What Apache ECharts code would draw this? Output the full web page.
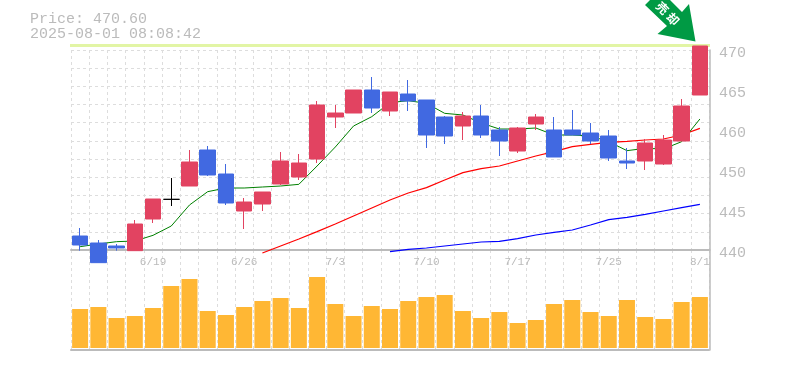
<!DOCTYPE html>
<html><head><meta charset="utf-8">
<style>html,body{margin:0;padding:0;background:#fff}#c{width:785px;height:370px}</style>
<script src="https://cdn.jsdelivr.net/npm/echarts@6/dist/echarts.min.js"></script>
</head><body><div id="c"></div>
<script>
var categories=['6/13','6/16','6/17','6/18','6/19','6/20','6/23','6/24','6/25','6/26','6/27','6/30','7/1','7/2','7/3','7/4','7/7','7/8','7/9','7/10','7/11','7/14','7/15','7/16','7/17','7/18','7/22','7/23','7/24','7/25','7/28','7/29','7/30','7/31','8/1'];
var shownDates=['6/19','6/26','7/3','7/10','7/17','7/25','8/1'];
var priceTicks=[440,446,452,458,464,470];
var priceTickLabels=['440','445','450','460','465','470'];
var opens=[442.1,441.05,440.6,439.9,444.65,447.6,449.6,455,451.4,445.85,446.9,449.9,450.95,453.65,459.95,460.55,464,460.85,463.4,462.5,459.95,458.6,460.1,458,454.85,458.9,458,458,457.55,457.1,453.35,453.35,452.9,456.35,463.25];
var closes=[440.75,438.1,440.3,443.9,447.65,447.6,453.2,451.25,447.05,447.2,448.7,453.35,453.05,461.75,460.55,464,461.3,463.7,462.35,457.25,457.1,460.1,457.25,456.35,458.3,459.95,453.95,457.25,456.35,453.8,453.05,456.05,456.5,461.6,470.6];
var lows=[439.9,438.1,439.9,439.9,444.05,446.6,449.6,451.1,446.75,443.15,445.85,449.75,450.5,453.05,458.3,460.55,460.55,460.1,460.85,455.3,455.9,456.5,456.8,454.1,454.55,458,453.95,457.25,455.9,453.35,452.15,452,452.75,456.35,463.25];
var highs=[443.3,441.5,440.9,444.5,447.65,450.8,455,455.6,452.9,447.8,448.7,454.7,454.4,462.35,461.75,464,465.95,463.7,465.5,462.5,460.1,460.7,461.75,458.45,458.45,460.4,459.95,461,459.05,458,455.3,456.65,457.25,462.65,470.6];
var maShort=[440.5,440.9,441.25,441.35,442.2,443.6,446.75,448.75,449.3,449.3,449.45,449.6,449.85,452.6,455.45,458.6,460,462.1,462.4,462,460.5,460.25,459.05,458.15,458.15,458.3,457.25,457.25,457.1,456.25,454.9,455.25,455.15,456.25,459.65];
var maMid=[null,null,null,null,null,null,null,null,null,null,439.55,440.6,441.65,442.75,443.9,445.1,446.3,447.5,448.55,449.35,450.5,451.6,452.2,452.6,453.35,454.1,454.75,455.5,455.85,456.15,456.3,456.5,456.65,457.25,458.25];
var maLong=[null,null,null,null,null,null,null,null,null,null,null,null,null,null,null,null,null,439.75,440.1,440.3,440.6,440.9,441.2,441.3,441.7,442.25,442.65,443,443.75,444.55,444.9,445.35,445.85,446.35,446.85];
var volumes=[39,41,30,32,40,62,69,37,33,41,47,50,40,71,44,32,42,39,47,51,53,37,30,36,25,28,44,48,36,32,48,31,29,46,51];

var grey='#bbbbbb', gridGrey='#dddddd', mono='"Liberation Mono",monospace', yellow='#e2f5a5';
var candles=categories.map(function(c,i){
  var p={value:[opens[i],closes[i],lows[i],highs[i]]};
  if(opens[i]===closes[i]) p.itemStyle={color:'#000',color0:'#000',borderColor:'#000',borderColor0:'#000',borderColorDoji:'#000'};
  return p;
});
var last=categories[categories.length-1], lastClose=closes[closes.length-1];
var chart=echarts.init(document.getElementById('c'),null,{renderer:'canvas'});
chart.setOption({
  animation:false,
  backgroundColor:'#fff',
  title:{text:'Price: '+lastClose.toFixed(2)+'\n2025-08-01 08:08:42',left:30,top:12,padding:0,
    textStyle:{fontFamily:mono,fontSize:15,fontWeight:'normal',color:'#bbbbbb',lineHeight:15}},
  grid:[{left:71,width:638,top:50,height:200},{left:71,width:638,top:250,height:100}],
  xAxis:[
    {type:'category',gridIndex:0,data:categories,boundaryGap:true,
     axisLine:{show:true,onZero:false,lineStyle:{color:grey,width:2}},axisTick:{show:false},
     axisLabel:{interval:function(i,v){return shownDates.indexOf(v)>=0},color:'#bbbbbb',fontFamily:mono,fontSize:11,margin:7},
     splitLine:{show:true,interval:0,lineStyle:{color:gridGrey,type:[3,3]}}},
    {type:'category',gridIndex:1,data:categories,boundaryGap:true,
     axisLine:{show:true,onZero:false,lineStyle:{color:grey,width:2}},axisTick:{show:false},axisLabel:{show:false},
     splitLine:{show:true,interval:0,lineStyle:{color:gridGrey,type:[3,3]}}}
  ],
  yAxis:[
    {type:'value',gridIndex:0,position:'right',offset:1,min:440,max:470,
     axisLine:{show:true,onZero:false,lineStyle:{color:grey,width:1.5}},axisTick:{show:false},splitLine:{show:false},
     axisLabel:{customValues:priceTicks,margin:9,verticalAlign:'top',lineHeight:6,color:'#bbbbbb',fontFamily:mono,fontSize:15,
       formatter:function(v){return priceTickLabels[priceTicks.indexOf(v)]}}},
    {type:'value',gridIndex:0,position:'left',min:0,max:11,interval:1,
     axisLine:{show:false},axisTick:{show:false},axisLabel:{show:false},
     splitLine:{show:true,lineStyle:{color:gridGrey,type:[3,3]}}},
    {type:'value',gridIndex:1,position:'right',offset:1,min:-2,max:98,
     axisLine:{show:true,onZero:false,lineStyle:{color:grey,width:1.5}},axisTick:{show:false},axisLabel:{show:false},splitLine:{show:false}}
  ],
  series:[
    {type:'line',name:'MA long',xAxisIndex:0,yAxisIndex:0,data:maLong,showSymbol:false,clip:false,z:3,lineStyle:{color:'#0000ff',width:1.2}},
    {type:'line',name:'MA mid',xAxisIndex:0,yAxisIndex:0,data:maMid,showSymbol:false,clip:false,z:3,lineStyle:{color:'#ff0000',width:1.2}},
    {type:'line',name:'MA short',xAxisIndex:0,yAxisIndex:0,data:maShort,showSymbol:false,clip:false,z:3,lineStyle:{color:'#008000',width:1},
     markLine:{silent:true,symbol:'none',label:{show:false},animation:false,z:2,
       lineStyle:{color:yellow,width:3,type:'solid'},
       data:[[{coord:[categories[0],lastClose+0.1],x:70},{coord:[last,lastClose+0.1],x:710}],
             [{coord:[last,lastClose]},{coord:[last,440.3]}]]}},
    {type:'candlestick',name:'Price',xAxisIndex:0,yAxisIndex:0,data:candles,barWidth:16,clip:false,z:5,
     itemStyle:{color:'#e24361',color0:'#4169e1',borderColor:'#e24361',borderColor0:'#4169e1',borderColorDoji:'#000',borderWidth:1}},
    {type:'bar',name:'Volume',xAxisIndex:1,yAxisIndex:2,data:volumes,barWidth:16,itemStyle:{color:'#ffb734'},z:3}
  ],
  graphic:[
    {type:'polygon',z:20,shape:{points:[[645,5],[650,0],[670,0],[682,12],[689,4],[695.5,41.5],[657.5,34],[667,26]]},style:{fill:'#009a44'}},
    {type:'text',z:21,x:662.5,y:8,rotation:-Math.PI/4,style:{text:'売',fill:'#fff',font:'bold 12px "Noto Sans CJK JP"',align:'center',verticalAlign:'middle'}},
    {type:'text',z:21,x:673,y:19,rotation:-Math.PI/4,style:{text:'却',fill:'#fff',font:'bold 12px "Noto Sans CJK JP"',align:'center',verticalAlign:'middle'}}
  ]
});
</script></body></html>
